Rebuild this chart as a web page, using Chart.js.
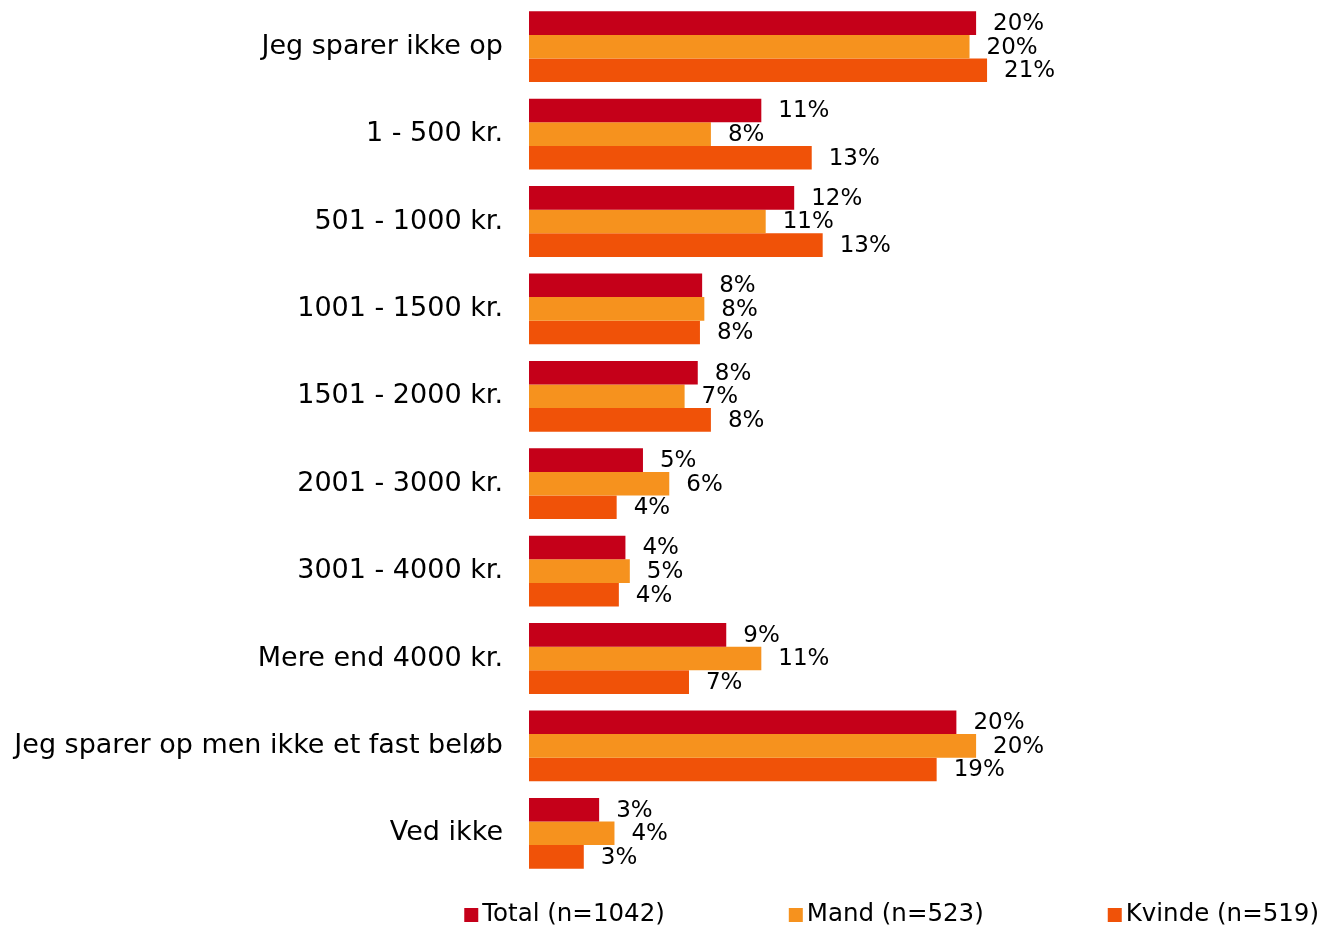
<!DOCTYPE html>
<html>
<head>
<meta charset="utf-8">
<script src="https://cdn.jsdelivr.net/npm/chart.js@4.4.1/dist/chart.umd.min.js"></script>
<style>
  body { margin: 0; background: #fff; }
  canvas { display: block; }
</style>
</head>
<body>
<canvas id="myChart" width="1321" height="926"></canvas>
<script>
const categories = [
  "Jeg sparer ikke op",
  "1 - 500 kr.",
  "501 - 1000 kr.",
  "1001 - 1500 kr.",
  "1501 - 2000 kr.",
  "2001 - 3000 kr.",
  "3001 - 4000 kr.",
  "Mere end 4000 kr.",
  "Jeg sparer op men ikke et fast beløb",
  "Ved ikke",
];
const seriesNames = ["Total (n=1042)", "Mand (n=523)", "Kvinde (n=519)"];
const totalValues = [20.4, 10.6, 12.1, 7.9, 7.7, 5.2, 4.4, 9.0, 19.5, 3.2];
const mandValues = [20.1, 8.3, 10.8, 8.0, 7.1, 6.4, 4.6, 10.6, 20.4, 3.9];
const kvindeValues = [20.9, 12.9, 13.4, 7.8, 8.3, 4.0, 4.1, 7.3, 18.6, 2.5];
const colors = ["#c50019", "#f6921e", "#f05208"];

const labelFont = "23px 'DejaVu Sans', Verdana, sans-serif";
const legendFont = "24.5px 'DejaVu Sans', Verdana, sans-serif";

// value labels at the end of each bar
const barLabels = {
  id: "barLabels",
  afterDatasetsDraw(chart) {
    const c = chart.ctx;
    c.save();
    c.font = labelFont;
    c.fillStyle = "#000";
    c.textAlign = "left";
    c.textBaseline = "middle";
    chart.data.datasets.forEach((ds, i) => {
      chart.getDatasetMeta(i).data.forEach((bar, j) => {
        c.fillText(Math.round(ds.data[j]) + "%", bar.x + 17, bar.y + 1);
      });
    });
    c.restore();
  },
};

// legend along the bottom, right aligned
const bottomLegend = {
  id: "bottomLegend",
  afterDraw(chart) {
    const c = chart.ctx;
    c.save();
    c.font = legendFont;
    c.textBaseline = "middle";
    c.textAlign = "left";
    const box = 14, gapText = 4, gapItem = 124, y = 914;
    const widths = chart.data.datasets.map((ds) => box + gapText + c.measureText(ds.label).width);
    const total = widths.reduce((a, b) => a + b, 0) + gapItem * (widths.length - 1);
    let x = chart.width - 2 - total;
    chart.data.datasets.forEach((ds, i) => {
      c.fillStyle = ds.backgroundColor;
      c.fillRect(x, y + 1 - box / 2, box, box);
      c.fillStyle = "#000";
      c.fillText(ds.label, x + box + gapText, y + 1);
      x += widths[i] + gapItem;
    });
    c.restore();
  },
};

const ctx = document.getElementById("myChart").getContext("2d");
const myChart = new Chart(ctx, {
  type: "bar",
  data: {
    labels: categories,
    datasets: [
      { label: seriesNames[0], data: totalValues, backgroundColor: colors[0] },
      { label: seriesNames[1], data: mandValues, backgroundColor: colors[1] },
      { label: seriesNames[2], data: kvindeValues, backgroundColor: colors[2] },
    ],
  },
  options: {
    indexAxis: "y",
    responsive: false,
    animation: false,
    layout: { padding: { top: 3, bottom: 49, right: 3, left: 0 } },
    datasets: {
      bar: { categoryPercentage: 0.81, barPercentage: 1 },
    },
    scales: {
      x: {
        display: false,
        min: 0,
        max: 36,
      },
      y: {
        grid: { display: false, drawTicks: false },
        border: { display: false },
        afterFit(scale) {
          scale.width = 529;
          scale.paddingTop = 0;
          scale.paddingBottom = 0;
        },
        ticks: {
          color: "#000",
          padding: 26,
          font: { family: "'DejaVu Sans', Verdana, sans-serif", size: 27 },
        },
      },
    },
    plugins: {
      legend: { display: false },
      tooltip: { enabled: false },
    },
  },
  plugins: [barLabels, bottomLegend],
});
</script>
</body>
</html>
